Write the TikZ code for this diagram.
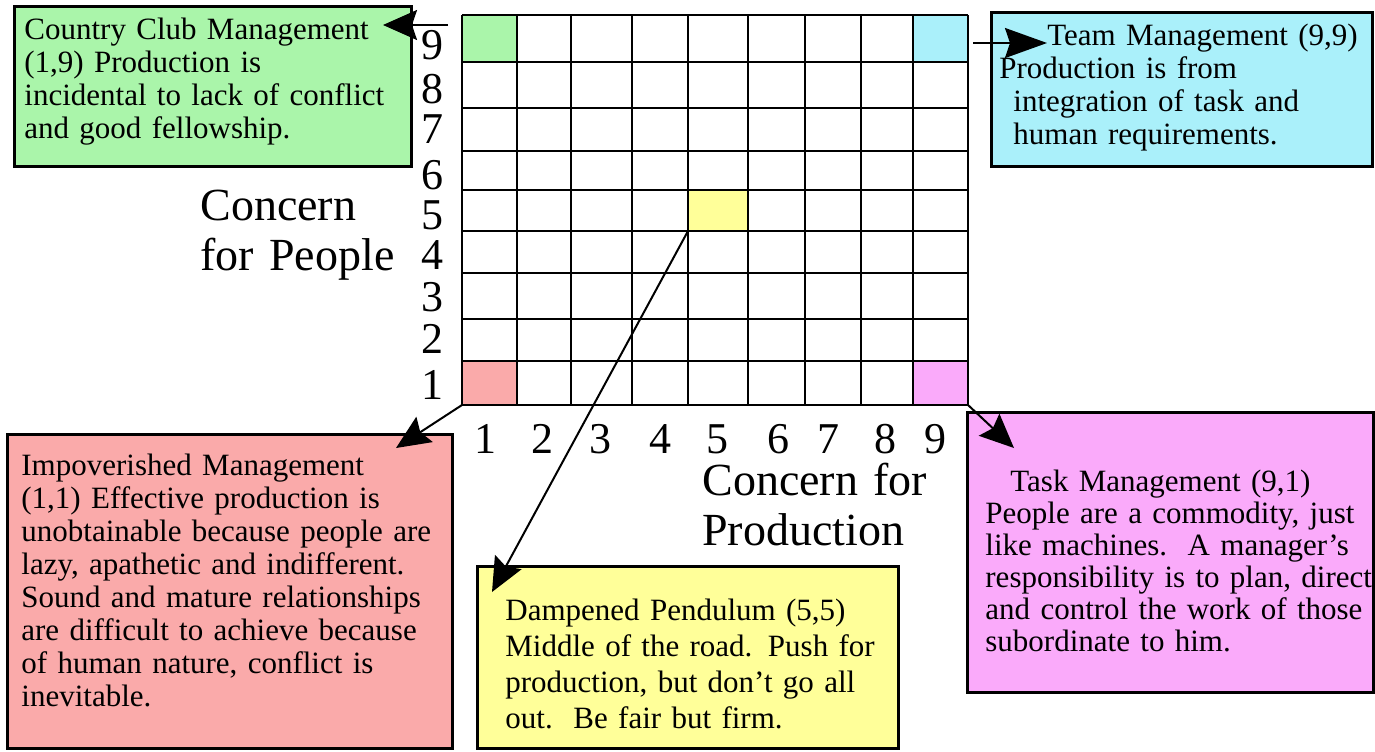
\documentclass[tikz,border=0pt]{standalone}
\usepackage{fontspec}
\setmainfont{Liberation Serif}
\usetikzlibrary{arrows.meta}
\definecolor{ccgreen}{RGB}{170,245,170}
\definecolor{tmcyan}{RGB}{170,240,250}
\definecolor{dpyellow}{RGB}{255,255,153}
\definecolor{impink}{RGB}{250,170,170}
\definecolor{tkmagenta}{RGB}{250,170,250}
\begin{document}
\begin{tikzpicture}[x=0.5pt,y=-0.5pt,
  box/.style={draw=black, line width=1.5pt, anchor=north west, inner sep=0pt, outer sep=0pt},
  body/.style={anchor=base west, inner sep=0pt, align=left, font=\fontsize{15.5}{16.5}\selectfont},
  num/.style={inner sep=0pt, font=\fontsize{22}{24}\selectfont},
  axislabel/.style={anchor=base west, inner sep=0pt, align=left, text width=140pt, font=\fontsize{23}{25}\selectfont},
  gridline/.style={line width=1.2pt},
  arr/.style={line width=1pt, -{Stealth[length=17pt,width=15pt,inset=2.5pt]}}]
\useasboundingbox (0,0) rectangle (1375,751);
\fill[white] (0,0) rectangle (1375,751);

% coloured cells
\fill[ccgreen] (462,15) rectangle (517,62);
\fill[tmcyan] (913,15) rectangle (968,62);
\fill[dpyellow] (688,190) rectangle (748,231);
\fill[impink] (462,361) rectangle (517,405);
\fill[tkmagenta] (913,361) rectangle (968,405);

% grid
\foreach \gx in {462,517,571,632,688,748,805,861,913,968}
  \draw[gridline] (\gx,15) -- (\gx,405);
\foreach \gy in {15,62,108,151,190,231,273,319,361,405}
  \draw[gridline] (462,\gy) -- (968,\gy);

% row numbers
\foreach \n/\yy in {9/45,8/89,7/129,6/175,5/215,4/255,3/297,2/339,1/385}
  \node[num] (row\n) at (432,\yy) {\n};
% column numbers
\foreach \n/\xx in {1/485,2/542,3/600,4/660,5/717,6/778,7/828,8/885,9/935}
  \node[num] (col\n) at (\xx,439) {\n};

% axis titles
\node[axislabel] (ylab) at (200,220) {Concern\\for People};
\node[axislabel] (xlab) at (702,495) {Concern for\\Production};

% boxes
\node[box, fill=ccgreen, minimum width=198.5pt, minimum height=80pt] (ccbox) at (14,6) {};
\node[box, fill=tmcyan, minimum width=190.5pt, minimum height=77pt] (tmbox) at (991,12) {};
\node[box, fill=impink, minimum width=222.5pt, minimum height=157pt] (imbox) at (7,434) {};
\node[box, fill=dpyellow, minimum width=210.5pt, minimum height=91pt] (dpbox) at (477,566) {};
\node[box, fill=tkmagenta, minimum width=203pt, minimum height=140pt] (tkbox) at (967,412) {};

% texts
\node[body, text width=195pt] (cctext) at (24,39)
  {Country Club Management\\(1,9) Production is\\incidental to lack of conflict\\and good fellowship.};
\node[body, text width=185pt] (tmtext) at (999,45)
  {\hspace*{24pt}Team Management (9,9)\\Production is from\\\hspace*{7pt}integration of task and\\\hspace*{7pt}human requirements.};
\node[body, text width=218pt] (imtext) at (21,475)
  {Impoverished Management\\(1,1) Effective production is\\unobtainable because people are\\lazy, apathetic and indifferent.\\Sound and mature relationships\\are difficult to achieve because\\of human nature, conflict is\\inevitable.};
\node[body, text width=200pt, font=\fontsize{15.5}{18}\selectfont] (dptext) at (505,620)
  {Dampened Pendulum (5,5)\\Middle of the road. Push for\\production, but don’t go all\\out.\ \ Be fair but firm.};
\node[body, text width=195pt, font=\fontsize{15.5}{16}\selectfont] (tktext) at (985,491)
  {\hspace*{12.5pt}Task Management (9,1)\\People are a commodity, just\\like machines.\ \ A manager’s\\responsibility is to plan, direct\\and control the work of those\\subordinate to him.};

% connector end points
\coordinate (ccfrom) at (448,25);
\coordinate (ccto) at (383,25);
\coordinate (tmfrom) at (973,43);
\coordinate (tmto) at (1047,43);
\coordinate (imfrom) at (462,405);
\coordinate (imto) at (396,448);
\coordinate (dpfrom) at (688,231);
\coordinate (dpto) at (492,592);
\coordinate (tkfrom) at (968,405);
\coordinate (tkto) at (1014,448);

\draw[arr] (ccfrom) -- (ccto);
\draw[arr, -{Stealth[length=21pt,width=15pt,inset=2.5pt]}] (tmfrom) -- (tmto);
\draw[arr] (imfrom) -- (imto);
\draw[arr] (dpfrom) -- (dpto);
\draw[arr] (tkfrom) -- (tkto);
\end{tikzpicture}
\end{document}
